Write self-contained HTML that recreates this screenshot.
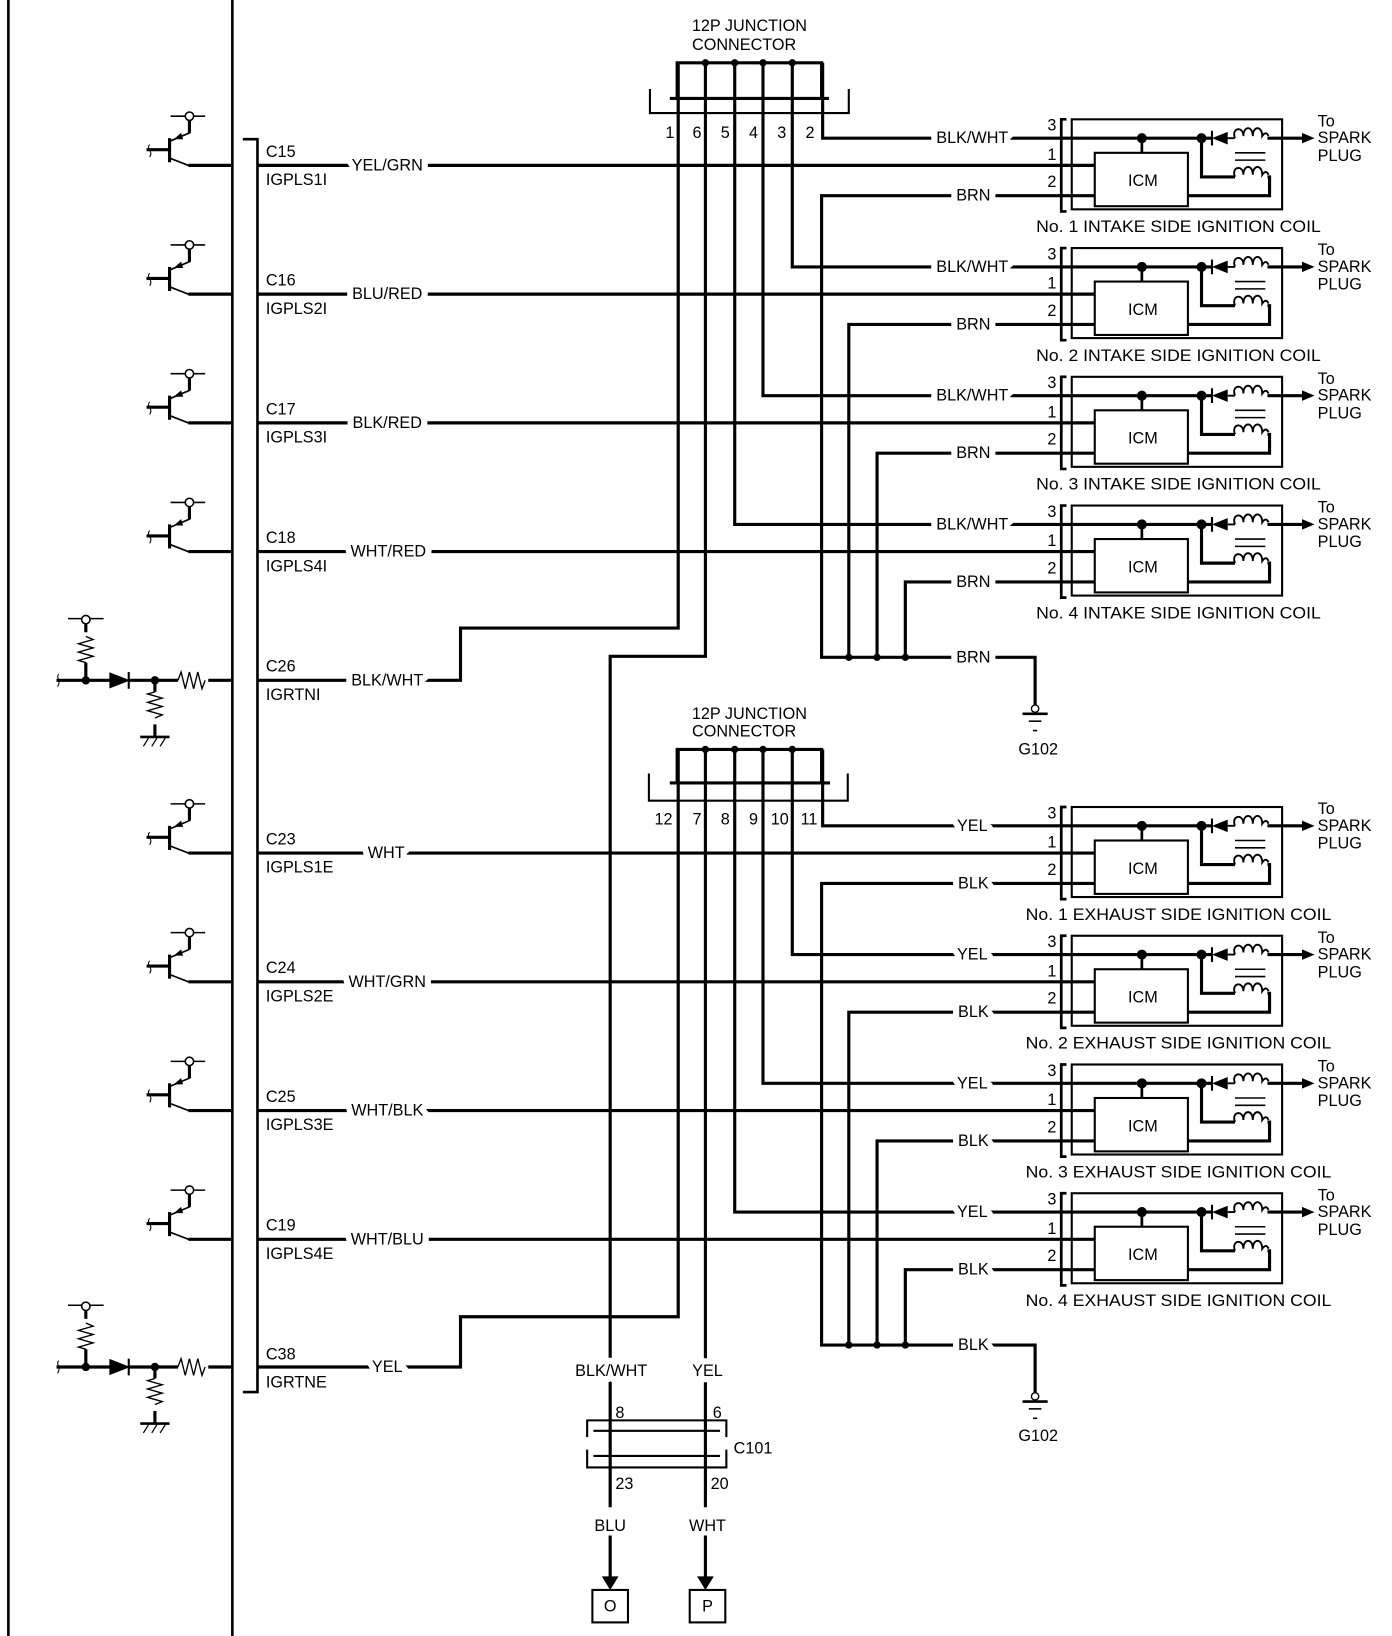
<!DOCTYPE html>
<html><head><meta charset="utf-8"><style>
html,body{margin:0;padding:0;background:#fff;}
svg{display:block;}
text{font-family:"Liberation Sans",Arial,sans-serif;font-size:15.5px;fill:#000;dominant-baseline:central;font-weight:500;}
.l{paint-order:stroke;stroke:#fff;stroke-width:12px;stroke-linejoin:round;}
.m{text-anchor:middle;}
</style></head><body>
<svg width="1392" height="1636" viewBox="0 0 1330 1563" preserveAspectRatio="none" xmlns="http://www.w3.org/2000/svg">
<defs>
<g id="coil" fill="none" stroke="#000" stroke-width="2.6">
  <path d="M1019,-44 H1014 V44 H1019"/>
  <rect x="1024" y="-44" width="201" height="86" stroke-width="2"/>
  <line x1="1014" y1="-26" x2="1158" y2="-26" stroke-width="3"/>
  <rect x="1046" y="-12" width="89" height="51" stroke-width="2"/>
  <line x1="1091" y1="-26" x2="1091" y2="-12"/>
  <circle cx="1091" cy="-26" r="3.5" fill="#000"/>
  <circle cx="1148" cy="-26" r="3.5" fill="#000"/>
  <line x1="1158" y1="-33" x2="1158" y2="-19" stroke-width="2"/>
  <polygon points="1158,-26 1173,-32 1173,-20" fill="#000" stroke="none"/>
  <path d="M1173,-26 H1180 M1180,-26 c-4,-10 8,-12 8,-2 c0,-10 9,-10 9,0 c0,-10 9,-10 9,0 c4,-6 6,0 6,0" stroke-width="1.8"/>
  <line x1="1211" y1="-26" x2="1246" y2="-26" stroke-width="3"/>
  <polygon points="1256,-26 1244,-31 1244,-21" fill="#000" stroke="none"/>
  <line x1="1180" y1="-12" x2="1209" y2="-12" stroke-width="1.5"/>
  <line x1="1180" y1="-5" x2="1209" y2="-5" stroke-width="1.5"/>
  <path d="M1148,-26 V11 H1180" stroke-width="3"/>
  <path d="M1180,11 c-4,-10 8,-12 8,-2 c0,-10 9,-10 9,0 c0,-10 9,-10 9,0 c4,-6 6,0 6,0" stroke-width="1.8"/>
  <path d="M1211,11 H1213 V29 H1135" stroke-width="3"/>
  <line x1="1014" y1="0" x2="1046" y2="0" stroke-width="3"/>
  <line x1="1014" y1="29" x2="1046" y2="29" stroke-width="3"/>
</g>
<g id="tr" fill="none" stroke="#000">
  <path d="M162,-26 V-3" stroke-width="3"/>
  <path d="M140,-15 H162" stroke-width="3"/>
  <path d="M143,-20 c-4,4 4,6 0,12" stroke-width="1"/>
  <path d="M162,-23 L181,-31 V-43" stroke-width="1.6"/>
  <path d="M181,-31 V-43" stroke-width="3"/>
  <polygon points="166,-25 173,-31 175,-25" fill="#000" stroke="none"/>
  <circle cx="181" cy="-47" r="4" fill="#fff" stroke-width="1.5"/>
  <path d="M163,-47 H177 M185,-47 H196" stroke-width="1.5"/>
  <path d="M162,-7 L180,0 H222" stroke-width="1.6"/>
  <path d="M180,0 H222" stroke-width="3"/>
</g>
<g id="rt" fill="none" stroke="#000">
  <path d="M54,-2 H105 M123,-2 H170 M199,-2 H222" stroke-width="3"/>
  <path d="M56,-8 c-3,4 3,6 -1,12" stroke-width="1"/>
  <polygon points="105,-9 105,5 123,-2" fill="#000"/>
  <line x1="123" y1="-10" x2="123" y2="6" stroke-width="2"/>
  <path d="M170,-2 l3,-8 l4,16 l4,-16 l4,16 l4,-16 l4,16 l3,-8" stroke-width="1.3"/>
  <circle cx="82" cy="-2" r="3.5" fill="#000"/>
  <circle cx="148" cy="-2" r="3.5" fill="#000"/>
  <path d="M82,-2 V-19 M82,-48 V-56" stroke-width="3"/>
  <path d="M82,-19 l-7,-2 l14,-4 l-14,-4 l14,-4 l-14,-4 l14,-4 l-7,-3" stroke-width="1.3"/>
  <circle cx="82" cy="-60" r="4" fill="#fff" stroke-width="1.5"/>
  <path d="M65,-61 H78 M86,-61 H99" stroke-width="1.5"/>
  <path d="M148,-2 V9 M148,40 V52" stroke-width="3"/>
  <path d="M148,9 l-7,2 l14,4 l-14,4 l14,4 l-14,4 l14,4 l-7,3" stroke-width="1.3"/>
  <path d="M134,52 H162" stroke-width="2.5"/>
  <path d="M137,61 L142,53 M145,61 L150,53 M153,61 L158,53" stroke-width="1.2"/>
</g>
<g id="gnd" fill="none" stroke="#000">
  <circle cx="989" cy="0" r="3.5" stroke-width="1.3"/>
  <path d="M977,5 H1001" stroke-width="2.5"/>
  <path d="M983,12 H995" stroke-width="1.5"/>
  <path d="M987,21 H991" stroke-width="1.5"/>
</g>
</defs>

<g fill="none" stroke="#000">
<line x1="8" y1="0" x2="8" y2="1563" stroke-width="2.5"/>
<line x1="222" y1="0" x2="222" y2="1563" stroke-width="2.5"/>
<path d="M232,133 H246 V1330 H232" stroke-width="2.5"/>
</g>
<use href="#tr" y="158"/><use href="#tr" y="281"/><use href="#tr" y="404"/><use href="#tr" y="527"/>
<use href="#tr" y="815"/><use href="#tr" y="938"/><use href="#tr" y="1061"/><use href="#tr" y="1184"/>
<use href="#rt" y="652"/><use href="#rt" y="1308"/>

<use href="#coil" y="158"/><use href="#coil" y="281"/><use href="#coil" y="404"/><use href="#coil" y="527"/>
<use href="#coil" y="815"/><use href="#coil" y="938"/><use href="#coil" y="1061"/><use href="#coil" y="1184"/>

<g fill="none" stroke="#000" stroke-width="3">
<path d="M246,158 H1014"/><path d="M246,281 H1014"/><path d="M246,404 H1014"/><path d="M246,527 H1014"/>
<path d="M246,815 H1014"/><path d="M246,938 H1014"/><path d="M246,1061 H1014"/><path d="M246,1184 H1014"/>
<path d="M246,650 H440 V600 H648 V60"/>
<path d="M246,1306 H440 V1258 H648 V716"/>
<path d="M647,94 V60 H785 V94"/>
<path d="M640,94 H792"/>
<path d="M621,85 V108 H811 V85" stroke-width="2"/>
<path d="M674,60 V627 H583 V1440"/>
<path d="M702,60 V501 H1014"/>
<path d="M729,60 V378 H1014"/>
<path d="M757,60 V255 H1014"/>
<path d="M786,60 V132 H1014"/>
<path d="M647,748 V716 H785 V748"/>
<path d="M640,748 H793"/>
<path d="M620,739 V765 H810 V739" stroke-width="2"/>
<path d="M674,716 V1440"/>
<path d="M702,716 V1158 H1014"/>
<path d="M729,716 V1035 H1014"/>
<path d="M757,716 V912 H1014"/>
<path d="M786,716 V789 H1014"/>
<path d="M1014,187 H785 V628 H989 V674"/>
<path d="M1014,310 H811 V628"/><path d="M1014,433 H838 V628"/><path d="M1014,556 H865 V628"/>
<path d="M1014,844 H785 V1285 H989 V1331"/>
<path d="M1014,967 H811 V1285"/><path d="M1014,1090 H838 V1285"/><path d="M1014,1213 H865 V1285"/>
<path d="M583,1467 V1508 M674,1467 V1508"/>
</g>
<g fill="#000">
<circle cx="674" cy="60" r="3.5"/><circle cx="702" cy="60" r="3.5"/><circle cx="729" cy="60" r="3.5"/><circle cx="757" cy="60" r="3.5"/>
<circle cx="674" cy="716" r="3.5"/><circle cx="702" cy="716" r="3.5"/><circle cx="729" cy="716" r="3.5"/><circle cx="757" cy="716" r="3.5"/>
<circle cx="811" cy="628" r="3.5"/><circle cx="838" cy="628" r="3.5"/><circle cx="865" cy="628" r="3.5"/>
<circle cx="811" cy="1285" r="3.5"/><circle cx="838" cy="1285" r="3.5"/><circle cx="865" cy="1285" r="3.5"/>
<polygon points="575,1506 591,1506 583,1519"/><polygon points="666,1506 682,1506 674,1519"/>
</g>
<use href="#gnd" y="677"/><use href="#gnd" y="1334"/>
<g fill="none" stroke="#000">
<path d="M561,1373 V1357 H694 V1373 M561,1385 V1402 H694 V1385" stroke-width="2"/>
<path d="M567,1367 H688 M567,1391 H688" stroke-width="2"/>
<rect x="566" y="1519" width="34" height="31" stroke-width="2"/>
<rect x="659" y="1519" width="34" height="31" stroke-width="2"/>
</g>

<g>
<text x="254" y="145">C15</text><text x="254" y="172">IGPLS1I</text>
<text x="254" y="268">C16</text><text x="254" y="295">IGPLS2I</text>
<text x="254" y="391">C17</text><text x="254" y="418">IGPLS3I</text>
<text x="254" y="514">C18</text><text x="254" y="541">IGPLS4I</text>
<text x="254" y="637">C26</text><text x="254" y="664">IGRTNI</text>
<text x="254" y="802">C23</text><text x="254" y="829">IGPLS1E</text>
<text x="254" y="925">C24</text><text x="254" y="952">IGPLS2E</text>
<text x="254" y="1048">C25</text><text x="254" y="1075">IGPLS3E</text>
<text x="254" y="1171">C19</text><text x="254" y="1198">IGPLS4E</text>
<text x="254" y="1294">C38</text><text x="254" y="1321">IGRTNE</text>

<text class="l m" x="370" y="158">YEL/GRN</text>
<text class="l m" x="370" y="281">BLU/RED</text>
<text class="l m" x="370" y="404">BLK/RED</text>
<text class="l m" x="371" y="527">WHT/RED</text>
<text class="l m" x="370" y="650">BLK/WHT</text>
<text class="l m" x="369" y="815">WHT</text>
<text class="l m" x="370" y="938">WHT/GRN</text>
<text class="l m" x="370" y="1061">WHT/BLK</text>
<text class="l m" x="370" y="1184">WHT/BLU</text>
<text class="l m" x="370" y="1306">YEL</text>

<text class="l m" x="929" y="132">BLK/WHT</text>
<text class="l m" x="929" y="255">BLK/WHT</text>
<text class="l m" x="929" y="378">BLK/WHT</text>
<text class="l m" x="929" y="501">BLK/WHT</text>
<text class="l m" x="930" y="187">BRN</text>
<text class="l m" x="930" y="310">BRN</text>
<text class="l m" x="930" y="433">BRN</text>
<text class="l m" x="930" y="556">BRN</text>
<text class="l m" x="930" y="628">BRN</text>
<text class="l m" x="929" y="789">YEL</text>
<text class="l m" x="929" y="912">YEL</text>
<text class="l m" x="929" y="1035">YEL</text>
<text class="l m" x="929" y="1158">YEL</text>
<text class="l m" x="930" y="844">BLK</text>
<text class="l m" x="930" y="967">BLK</text>
<text class="l m" x="930" y="1090">BLK</text>
<text class="l m" x="930" y="1213">BLK</text>
<text class="l m" x="930" y="1285">BLK</text>

<text class="m" x="716" y="25">12P JUNCTION</text>
<text class="m" x="711" y="43">CONNECTOR</text>
<text class="m" x="716" y="682">12P JUNCTION</text>
<text class="m" x="711" y="699">CONNECTOR</text>
<text class="m" x="640" y="127">1</text><text class="m" x="666" y="127">6</text><text class="m" x="693" y="127">5</text>
<text class="m" x="720" y="127">4</text><text class="m" x="747" y="127">3</text><text class="m" x="774" y="127">2</text>
<text class="m" x="634" y="783">12</text><text class="m" x="666" y="783">7</text><text class="m" x="693" y="783">8</text>
<text class="m" x="720" y="783">9</text><text class="m" x="745" y="783">10</text><text class="m" x="773" y="783">11</text>

<text class="m" x="992" y="716">G102</text>
<text class="m" x="992" y="1372">G102</text>

<text class="l m" x="584" y="1310">BLK/WHT</text>
<text class="l m" x="676" y="1310">YEL</text>
<text x="588" y="1350">8</text><text x="681" y="1350">6</text>
<text x="701" y="1384">C101</text>
<text x="588" y="1418">23</text><text x="679" y="1418">20</text>
<text class="m" x="583" y="1458">BLU</text>
<text class="m" x="676" y="1458">WHT</text>
<text class="m" x="583" y="1535">O</text>
<text class="m" x="676" y="1535">P</text>
</g>

<g>
<text class="m" x="1005" y="120">3</text><text class="m" x="1005" y="148">1</text><text class="m" x="1005" y="174">2</text>
<text class="m" x="1005" y="243">3</text><text class="m" x="1005" y="271">1</text><text class="m" x="1005" y="297">2</text>
<text class="m" x="1005" y="366">3</text><text class="m" x="1005" y="394">1</text><text class="m" x="1005" y="420">2</text>
<text class="m" x="1005" y="489">3</text><text class="m" x="1005" y="517">1</text><text class="m" x="1005" y="543">2</text>
<text class="m" x="1005" y="777">3</text><text class="m" x="1005" y="805">1</text><text class="m" x="1005" y="831">2</text>
<text class="m" x="1005" y="900">3</text><text class="m" x="1005" y="928">1</text><text class="m" x="1005" y="954">2</text>
<text class="m" x="1005" y="1023">3</text><text class="m" x="1005" y="1051">1</text><text class="m" x="1005" y="1077">2</text>
<text class="m" x="1005" y="1146">3</text><text class="m" x="1005" y="1174">1</text><text class="m" x="1005" y="1200">2</text>

<text class="m" x="1092" y="173">ICM</text><text class="m" x="1092" y="296">ICM</text>
<text class="m" x="1092" y="419">ICM</text><text class="m" x="1092" y="542">ICM</text>
<text class="m" x="1092" y="830">ICM</text><text class="m" x="1092" y="953">ICM</text>
<text class="m" x="1092" y="1076">ICM</text><text class="m" x="1092" y="1199">ICM</text>

<text x="1259" y="116">To</text><text x="1259" y="132">SPARK</text><text x="1259" y="149">PLUG</text>
<text x="1259" y="239">To</text><text x="1259" y="255">SPARK</text><text x="1259" y="272">PLUG</text>
<text x="1259" y="362">To</text><text x="1259" y="378">SPARK</text><text x="1259" y="395">PLUG</text>
<text x="1259" y="485">To</text><text x="1259" y="501">SPARK</text><text x="1259" y="518">PLUG</text>
<text x="1259" y="773">To</text><text x="1259" y="789">SPARK</text><text x="1259" y="806">PLUG</text>
<text x="1259" y="896">To</text><text x="1259" y="912">SPARK</text><text x="1259" y="929">PLUG</text>
<text x="1259" y="1019">To</text><text x="1259" y="1035">SPARK</text><text x="1259" y="1052">PLUG</text>
<text x="1259" y="1142">To</text><text x="1259" y="1158">SPARK</text><text x="1259" y="1175">PLUG</text>

<text x="990" y="217" textLength="272" lengthAdjust="spacingAndGlyphs">No. 1 INTAKE SIDE IGNITION COIL</text>
<text x="990" y="340" textLength="272" lengthAdjust="spacingAndGlyphs">No. 2 INTAKE SIDE IGNITION COIL</text>
<text x="990" y="463" textLength="272" lengthAdjust="spacingAndGlyphs">No. 3 INTAKE SIDE IGNITION COIL</text>
<text x="990" y="586" textLength="272" lengthAdjust="spacingAndGlyphs">No. 4 INTAKE SIDE IGNITION COIL</text>
<text x="980" y="874" textLength="292" lengthAdjust="spacingAndGlyphs">No. 1 EXHAUST SIDE IGNITION COIL</text>
<text x="980" y="997" textLength="292" lengthAdjust="spacingAndGlyphs">No. 2 EXHAUST SIDE IGNITION COIL</text>
<text x="980" y="1120" textLength="292" lengthAdjust="spacingAndGlyphs">No. 3 EXHAUST SIDE IGNITION COIL</text>
<text x="980" y="1243" textLength="292" lengthAdjust="spacingAndGlyphs">No. 4 EXHAUST SIDE IGNITION COIL</text>
</g>
</svg>
</body></html>
